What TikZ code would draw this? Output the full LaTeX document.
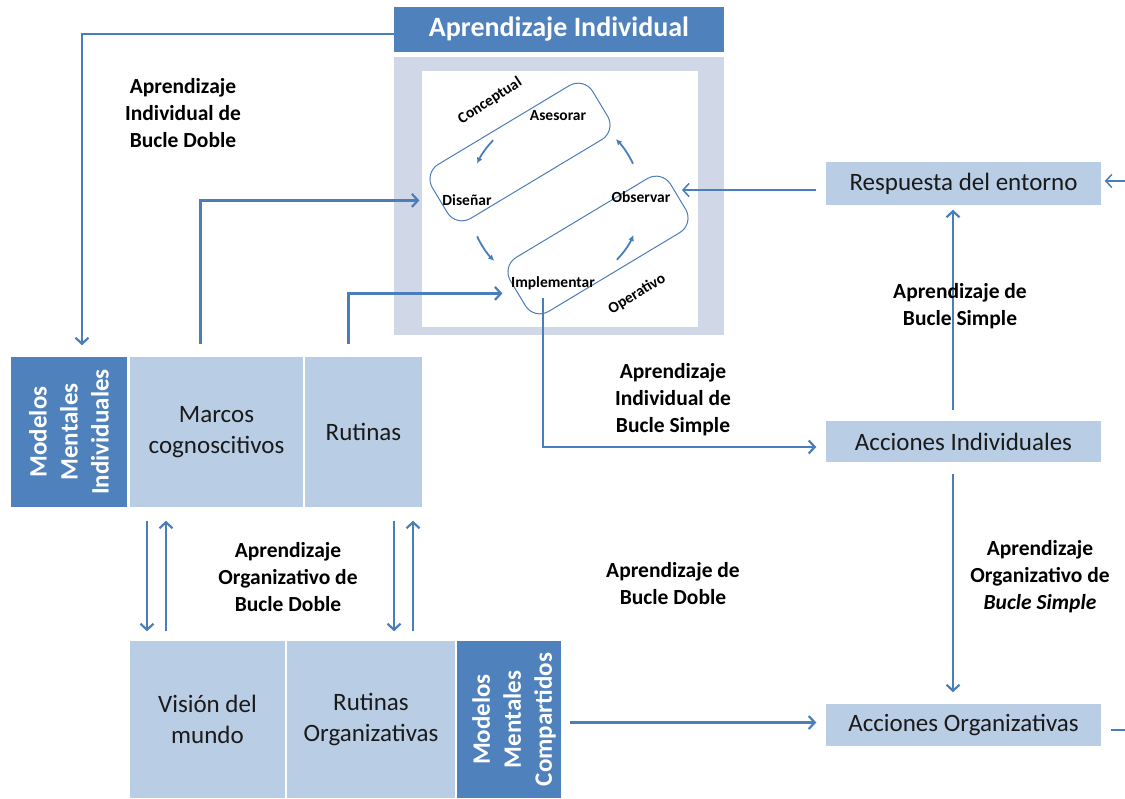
\documentclass[tikz,border=0pt]{standalone}
\usepackage{fontspec}
\setmainfont{Carlito}
\usetikzlibrary{arrows.meta}
\definecolor{darkblue}{HTML}{4F81BD}
\definecolor{lightblue}{HTML}{B9CDE5}
\definecolor{framegray}{HTML}{D0D8E8}
\definecolor{linkblue}{HTML}{4A7EBB}
\definecolor{ink}{HTML}{1A1A1A}

\begin{document}
\begin{tikzpicture}[x=1pt,y=-1pt,
  darkbox/.style={fill=darkblue, draw=white, line width=1.5pt, inner sep=0pt},
  lightbox/.style={fill=lightblue, draw=white, line width=1.5pt, inner sep=0pt,
    text=ink, align=center, font=\fontsize{25}{31}\selectfont},
  vtext/.style={rotate=90, align=center, text=white, inner sep=0pt,
    font=\bfseries\fontsize{25}{31}\selectfont},
  lbl/.style={align=center, inner sep=0pt, font=\bfseries\fontsize{21.5}{27}\selectfont},
  loopbox/.style={draw=linkblue, line width=1pt, rounded corners=17pt,
    minimum width=187pt, minimum height=63pt, rotate=31, inner sep=0pt},
  inlbl/.style={inner sep=0pt, font=\bfseries\fontsize{15.5}{18}\selectfont},
  conn/.style={draw=linkblue, line width=2.2pt, -{Straight Barb[length=6pt,width=13pt]}},
  plainline/.style={draw=linkblue, line width=2.2pt},
  thinconn/.style={draw=linkblue, line width=1.5pt, -{Straight Barb[length=6pt,width=13pt]}},
  cyclearrow/.style={draw=linkblue, line width=1.8pt, -{Latex[length=6pt,width=6pt]}},
]
\useasboundingbox (0,0) rectangle (1125,799);
\fill[white] (0,0) rectangle (1125,799);

% --- individual learning panel ---
\node[fill=darkblue, inner sep=0pt, minimum width=330pt, minimum height=45pt,
      text=white, font=\bfseries\fontsize{28}{30}\selectfont] (title) at (559,29.5) {Aprendizaje Individual};
\node[fill=framegray, inner sep=0pt, minimum width=330pt, minimum height=278pt] (frame) at (559,196) {};
\node[fill=white, inner sep=0pt, minimum width=276pt, minimum height=256pt] (inner) at (560,199) {};

\node[loopbox] (conc) at (520,152) {};
\node[loopbox] (oper) at (598,245) {};
\node[inlbl, rotate=33] (conceptual) at (490,101) {Conceptual};
\node[inlbl] (asesorar) at (558,116) {Asesorar};
\node[inlbl] (disenar) at (467,200) {Diseñar};
\node[inlbl] (observar) at (641,197) {Observar};
\node[inlbl] (implementar) at (553,283) {Implementar};
\node[inlbl, rotate=31] (operativo) at (637,294) {Operativo};

% cycle arrows around the loop
\coordinate (hub) at (555,200);
\draw[cyclearrow] ([shift={(224:86)}]hub) arc[start angle=224, end angle=205, radius=86];
\draw[cyclearrow] ([shift={(155:86)}]hub) arc[start angle=155, end angle=135, radius=86];
\draw[cyclearrow] ([shift={(44:86)}]hub) arc[start angle=44, end angle=24, radius=86];
\draw[cyclearrow] ([shift={(-25:86)}]hub) arc[start angle=-25, end angle=-45, radius=86];

% --- individual mental models ---
\node[darkbox, minimum width=118pt, minimum height=152pt] (mmi) at (69,432) {};
\node[vtext] (mmiText) at (mmi.center) {Modelos\\Mentales\\Individuales};
\node[lightbox, minimum width=175pt, minimum height=152pt] (marcos) at (216.5,432) {Marcos\\cognoscitivos};
\node[lightbox, minimum width=119pt, minimum height=152pt] (rutinas) at (363.5,432) {Rutinas};

% --- shared mental models ---
\node[lightbox, minimum width=157pt, minimum height=159pt] (vision) at (207.5,719.5) {Visión del\\mundo};
\node[lightbox, minimum width=170pt, minimum height=159pt] (rutorg) at (371,719.5) {Rutinas\\Organizativas};
\node[darkbox, minimum width=106pt, minimum height=159pt] (mmc) at (509,719.5) {};
\node[vtext] (mmcText) at ([xshift=5pt]mmc.center) {Modelos\\Mentales\\Compartidos};

% --- outcome boxes ---
\node[lightbox, minimum width=277pt, minimum height=45pt] (resp) at (963.5,183.5) {Respuesta del entorno};
\node[lightbox, minimum width=277pt, minimum height=43pt] (ai) at (963.5,441.5) {Acciones Individuales};
\node[lightbox, minimum width=277pt, minimum height=44pt] (ao) at (963.5,725) {Acciones Organizativas};

% --- connectors ---
\draw[conn, shorten >=10pt] ([yshift=-4.5pt]title.west) -| ([xshift=13pt]mmi.north);
\draw[conn, shorten <=11pt, shorten >=20pt] ([xshift=-16pt]marcos.north) |- (conc.west);
\draw[conn, shorten <=11pt, shorten >=15pt] ([xshift=-15pt]rutinas.north) |- (oper.west);

\coordinate (impOut) at (543,298);
\draw[conn, shorten >=8pt] (impOut) |- ([yshift=-5.5pt]ai.west);

\coordinate (obsIn) at (682,190);
\coordinate (respIn) at ([xshift=-8pt]resp.west);
\draw[thinconn] (respIn |- obsIn) -- (obsIn);

\coordinate (edgeR) at (1125,181);
\draw[thinconn, shorten >=2pt] (edgeR) -- (edgeR -| resp.east);

\draw[conn, shorten <=9pt, shorten >=3pt] ([xshift=-10.5pt]ai.north) -- ([xshift=-10.5pt]resp.south);
\draw[conn, shorten <=10pt, shorten >=10pt] ([xshift=-10.5pt]ai.south) -- ([xshift=-10.5pt]ao.north);

\coordinate (mmcOut) at ([yshift=-3pt]mmc.east);
\draw[conn, shorten <=7pt, shorten >=8pt] (mmcOut) -- (mmcOut -| ao.west);

\coordinate (edgeOut) at (1125,730);
\draw[plainline, shorten <=8pt] (edgeOut -| ao.east) -- (edgeOut);

\coordinate (lpDown) at (147,0);
\coordinate (lpUp) at (166,0);
\coordinate (rpDown) at (394,0);
\coordinate (rpUp) at (413,0);
\draw[conn, shorten <=12pt, shorten >=8pt] (lpDown |- marcos.south) -- (lpDown |- vision.north);
\draw[conn, shorten <=8pt, shorten >=12pt] (lpUp |- vision.north) -- (lpUp |- marcos.south);
\draw[conn, shorten <=12pt, shorten >=8pt] (rpDown |- rutinas.south) -- (rpDown |- rutorg.north);
\draw[conn, shorten <=8pt, shorten >=12pt] (rpUp |- rutorg.north) -- (rpUp |- rutinas.south);

% --- loop labels ---
\node[lbl] (aibd) at (183,113) {Aprendizaje\\Individual de\\Bucle Doble};
\node[lbl] (aibs) at (673,400) {Aprendizaje\\Individual de\\Bucle Simple};
\node[lbl] (aobd) at (288,577) {Aprendizaje\\Organizativo de\\Bucle Doble};
\node[lbl] (abd) at (673,583.5) {Aprendizaje de\\Bucle Doble};
\node[lbl] (abs) at (960,306.5) {Aprendizaje de\\Bucle Simple};
\node[lbl] (aobs) at (1040,577) {Aprendizaje\\Organizativo de\\\textit{Bucle Simple}};
\end{tikzpicture}
\end{document}
